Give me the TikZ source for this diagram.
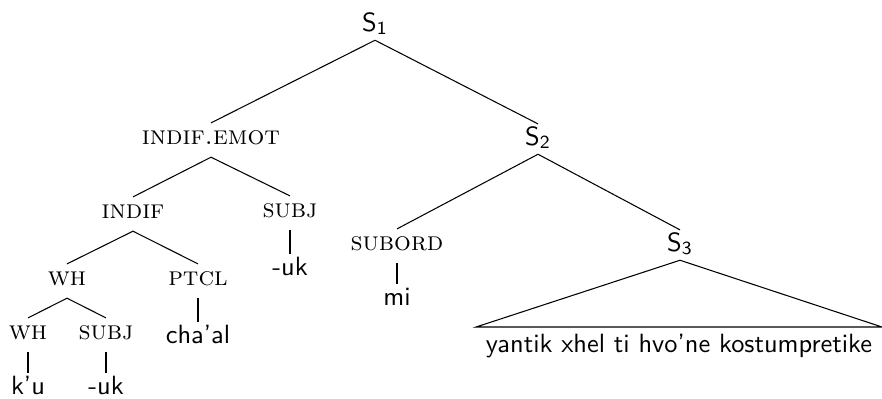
\documentclass[tikz,border=0pt]{standalone}
\begin{document}
\begin{tikzpicture}[x={(0.3788pt,0)},y={(0,-0.3788pt)},
  lab/.style={anchor=base,inner sep=0pt,outer sep=0pt,text height=8pt,text depth=5pt,font=\normalsize},
  cat/.style={lab},
  leaf/.style={lab,font=\sffamily},
  snode/.style={leaf,text depth=3.5pt},
  edge/.style={line width=0.4pt}]
\useasboundingbox (0,0) rectangle (882,398);
% nodes
\node[snode] (s1) at (375,31) {S\textsubscript{1}};
\node[cat] (ie) at (211,144) {\textsc{indif.emot}};
\node[snode] (s2) at (538,145) {S\textsubscript{2}};
\node[cat] (indif) at (133,218) {\textsc{indif}};
\node[cat] (subj1) at (290,217) {\textsc{subj}};
\node[leaf] (uk1) at (290,275) {-uk};
\node[cat] (subord) at (397,250) {\textsc{subord}};
\node[leaf] (mi) at (397,305) {mi};
\node[snode] (s3) at (680,251) {S\textsubscript{3}};
\node[cat] (wh1) at (67,285) {\textsc{wh}};
\node[cat] (ptcl) at (198,285) {\textsc{ptcl}};
\node[leaf] (chaal) at (198,343) {cha'al};
\node[cat] (wh2) at (28,339) {\textsc{wh}};
\node[cat] (subj2) at (106,339) {\textsc{subj}};
\node[leaf] (ku) at (28,394) {k'u};
\node[leaf] (uk2) at (106,394) {-uk};
\node[leaf] (yan) at (679,352) {yantik xhel ti hvo'ne kostumpretike};
\coordinate (bl) at (476,327);
\coordinate (br) at (882,327);
% edges
\draw[edge] (s1.south) -- (ie.north);
\draw[edge] (s1.south) -- (s2.north);
\draw[edge] (ie.south) -- (indif.north);
\draw[edge] (ie.south) -- (subj1.north);
\draw[edge] (subj1.south) -- (uk1.north);
\draw[edge] (s2.south) -- (subord.north);
\draw[edge] (s2.south) -- (s3.north);
\draw[edge] (subord.south) -- (mi.north);
\draw[edge] (s3.south) -- (bl) -- (br) -- cycle;
\draw[edge] (indif.south) -- (wh1.north);
\draw[edge] (indif.south) -- (ptcl.north);
\draw[edge] (ptcl.south) -- (chaal.north);
\draw[edge] (wh1.south) -- (wh2.north);
\draw[edge] (wh1.south) -- (subj2.north);
\draw[edge] (wh2.south) -- (ku.north);
\draw[edge] (subj2.south) -- (uk2.north);
\end{tikzpicture}
\end{document}
